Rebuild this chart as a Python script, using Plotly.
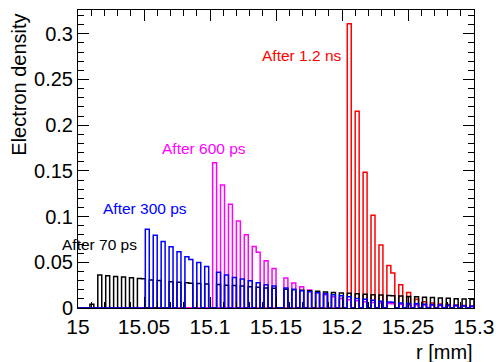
import numpy as np
import plotly.graph_objects as go

# Histogram binning (r in mm)
r_min, r_max, n_bins = 15.0, 15.3, 100

# Non-empty bins (index) and their contents for each time
black_bins = [3, 5, 7, 9, 11, 13, 15, 16, 18, 20, 23, 25, 27, 28, 30, 32, 35, 37, 39, 41, 43, 45, 47, 49,
              52, 54, 56, 58, 60, 62, 64, 66, 68, 70, 72, 74, 76, 78, 79, 81, 83, 85, 87, 89, 91, 93, 95, 97, 99]
black_vals = [0.004, 0.036, 0.0352, 0.0345, 0.0338, 0.033, 0.0323, 0.032, 0.0305, 0.030, 0.0287, 0.0282,
              0.0275, 0.0272, 0.0268, 0.0263, 0.0256, 0.025, 0.0245, 0.024, 0.0232, 0.0227, 0.022, 0.0215,
              0.0206, 0.02, 0.0194, 0.0188, 0.0182, 0.0176, 0.017, 0.0165, 0.016, 0.0155, 0.015, 0.0146,
              0.0142, 0.0138, 0.0135, 0.0131, 0.0127, 0.0122, 0.0118, 0.0114, 0.011, 0.0106, 0.0102, 0.0099, 0.0096]

blue_bins = [17, 19, 21, 23, 25, 27, 28, 30, 32, 35, 37, 39, 41, 43, 45, 47, 49,
             52, 54, 56, 58, 60, 62, 64, 66, 68, 70, 72, 74, 76, 78, 79, 81, 83, 85, 87, 89, 91, 93, 95, 97, 99]
blue_vals = [0.0862, 0.0796, 0.0727, 0.0669, 0.0614, 0.056, 0.053, 0.0498, 0.0454, 0.039, 0.036, 0.0334,
             0.0318, 0.0298, 0.0275, 0.0255, 0.024, 0.0218, 0.0205, 0.019, 0.0178, 0.0166, 0.0155, 0.0145,
             0.0134, 0.0124, 0.0105, 0.0095, 0.0085, 0.0075, 0.0065, 0.0062, 0.0056, 0.005, 0.0046, 0.0042,
             0.0038, 0.0034, 0.003, 0.0026, 0.0022, 0.0018]

magenta_bins = [34, 36, 38, 40, 42, 44, 45, 47, 49, 52, 54, 56, 58, 60, 62, 64, 66, 68, 70, 72, 74, 76, 78,
                79, 81, 83, 85, 87, 89, 91, 93, 95, 97, 99]
magenta_vals = [0.159, 0.1345, 0.1135, 0.0952, 0.080, 0.0672, 0.061, 0.0516, 0.0432, 0.0327, 0.0273, 0.0232,
                0.0198, 0.017, 0.0145, 0.0123, 0.0105, 0.009, 0.0078, 0.0068, 0.006, 0.0054, 0.0049,
                0.0046, 0.0042, 0.0039, 0.0036, 0.0033, 0.003, 0.0027, 0.0024, 0.0021, 0.0018, 0.0015]

red_bins = [68, 70, 72, 74, 76, 78, 79, 81, 83, 85, 87, 89, 91, 93, 95, 97, 99]
red_vals = [0.311, 0.2152, 0.1484, 0.1014, 0.069, 0.0465, 0.0382, 0.0254, 0.017, 0.0095, 0.0068, 0.0055,
            0.0045, 0.0038, 0.0032, 0.0027, 0.0022]

labels = ["After 70 ps", "After 300 ps", "After 600 ps", "After 1.2 ns"]

edges = np.linspace(r_min, r_max, n_bins + 1)


def step_xy(bins, vals):
    h = np.zeros(n_bins)
    h[np.array(bins)] = np.array(vals)
    x = list(edges) + [edges[-1]]
    y = list(h) + [h[-1], 0.0]
    return x, y


series = [
    (red_bins, red_vals, "#ff0000"),
    (magenta_bins, magenta_vals, "#ff00ff"),
    (black_bins, black_vals, "#000000"),
    (blue_bins, blue_vals, "#0000ff"),
]

fig = go.Figure()
for b, v, c in series:
    x, y = step_xy(b, v)
    fig.add_trace(go.Scatter(x=x, y=y, mode="lines", line=dict(color=c, width=1.5, shape="hv"),
                             hoverinfo="skip", showlegend=False))

font = "Liberation Sans, Arial, Helvetica, sans-serif"

axis_common = dict(
    showline=True, linecolor="black", linewidth=1, mirror="ticks",
    ticks="inside", tickcolor="black", tickwidth=1, ticklen=11,
    showgrid=False, zeroline=False,
)

fig.update_xaxes(range=[r_min, r_max], dtick=0.05, tick0=15,
                 tickfont=dict(family=font, size=21, color="black"),
                 minor=dict(dtick=0.01, ticks="inside", ticklen=6, tickcolor="black", showgrid=False),
                 **axis_common)
fig.update_yaxes(range=[0, 0.326], dtick=0.05, tick0=0,
                 tickfont=dict(family=font, size=20, color="black"),
                 minor=dict(dtick=0.01, ticks="inside", ticklen=6, tickcolor="black", showgrid=False),
                 **axis_common)

ann_font = dict(family=font, size=15.5)
annotations = [
    dict(x=-0.0456, y=0.2134, text=labels[0], font=dict(color="black", **ann_font)),
    dict(x=0.0587, y=0.3331, text=labels[1], font=dict(color="#0000ff", **ann_font)),
    dict(x=0.2059, y=0.5355, text=labels[2], font=dict(color="#ff00ff", **ann_font)),
    dict(x=0.4595, y=0.8473, text=labels[3], font=dict(color="#ff0000", **ann_font)),
]
for a in annotations:
    fig.add_annotation(xref="paper", yref="paper", xanchor="left", yanchor="middle", showarrow=False, **a)

fig.add_annotation(xref="paper", yref="paper", x=-0.151, y=0.75, text="Electron density", textangle=-90,
                   xanchor="center", yanchor="middle", showarrow=False,
                   font=dict(family=font, size=20, color="black"))
fig.add_annotation(xref="paper", yref="paper", x=1.003, y=-0.146, text="r [mm]",
                   xanchor="right", yanchor="middle", showarrow=False,
                   font=dict(family=font, size=20, color="black"))

fig.update_layout(
    width=503, height=362,
    margin=dict(l=78, r=23, t=9, b=54),
    paper_bgcolor="white", plot_bgcolor="white",
    showlegend=False,
)

fig.write_html("out.html")
